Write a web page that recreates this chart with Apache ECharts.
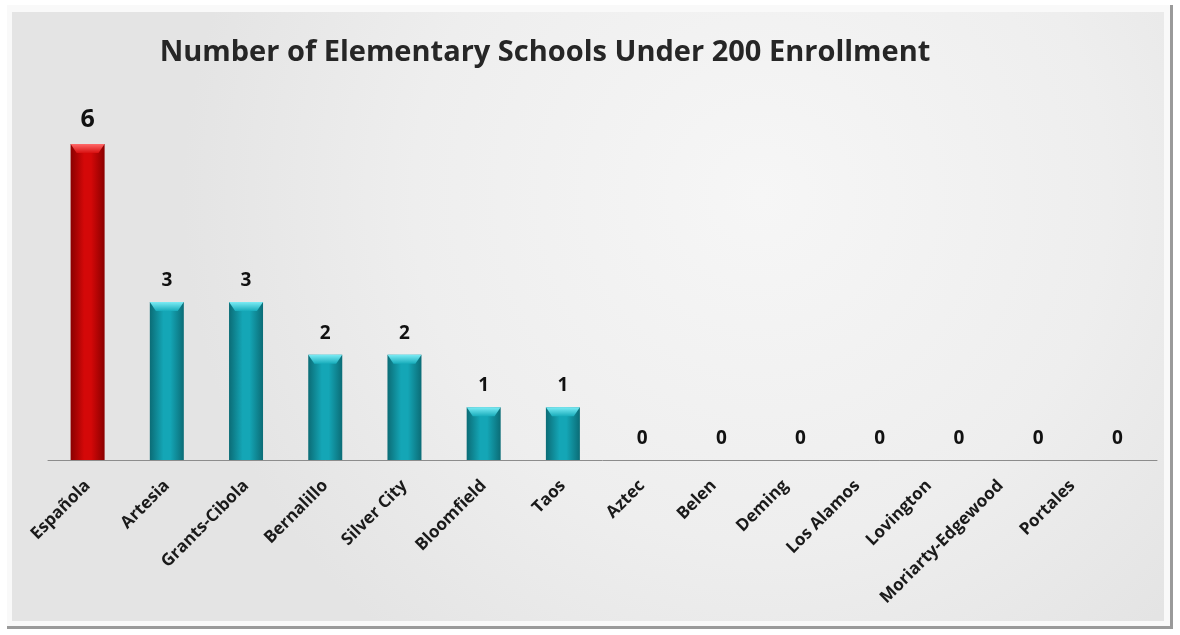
<!DOCTYPE html>
<html lang="en">
<head>
    <meta charset="UTF-8">
    <title>Number of Elementary Schools Under 200 Enrollment</title>
    <script src="https://cdn.jsdelivr.net/npm/echarts@6/dist/echarts.min.js"></script>
    <style>
        body, html {
            margin: 0;
            padding: 0;
            width: 100%;
            height: 100%;
            overflow: hidden;
            background-color: #fff;
        }
        #container {
            width: 1180px;
            height: 635px;
        }
    </style>
</head>
<body>
    <div id="container"></div>
    <script>
        // data
        var districts = ['Española', 'Artesia', 'Grants-Cibola', 'Bernalillo', 'Silver City', 'Bloomfield', 'Taos',
            'Aztec', 'Belen', 'Deming', 'Los Alamos', 'Lovington', 'Moriarty-Edgewood', 'Portales'];
        var schoolCounts = [6, 3, 3, 2, 2, 1, 1, 0, 0, 0, 0, 0, 0, 0];
        var highlighted = 'Española';

        function barGradient(edge, mid) {
            return new echarts.graphic.LinearGradient(0, 0, 1, 0, [
                { offset: 0, color: edge },
                { offset: 0.4, color: mid },
                { offset: 0.6, color: mid },
                { offset: 1, color: edge }
            ]);
        }
        function capGradient(light, base) {
            return new echarts.graphic.LinearGradient(0, 0, 0, 1, [
                { offset: 0, color: light },
                { offset: 1, color: base }
            ]);
        }

        var redFill = barGradient('#8a0000', '#d40808');
        var tealFill = barGradient('#0b6c76', '#14a6b6');
        var redCap = capGradient('#ff6a6a', '#d81010');
        var tealCap = capGradient('#7cecf5', '#17acbb');

        var barData = schoolCounts.map(function (v, i) {
            var hot = districts[i] === highlighted;
            return {
                value: v,
                itemStyle: { color: hot ? redFill : tealFill },
                label: hot ? { fontSize: 25 } : {}
            };
        });

        // bevel highlight on top of each bar
        var capData = schoolCounts.map(function (v, i) {
            var hot = districts[i] === highlighted;
            return {
                value: v,
                symbol: v > 0 ? 'path://M0,0 L10,0 L8.2,1 L1.8,1 Z' : 'none',
                itemStyle: { color: hot ? redCap : tealCap }
            };
        });

        // in the original the labels right of "Aztec" drift a little to the left;
        // shift them sideways with rich-text padding (label is rotated 45deg)
        var labelFont = { fontFamily: 'Open Sans', fontWeight: 'bold', fontSize: 17, color: '#1a1a1a' };
        var richLabels = { n: Object.assign({}, labelFont) };
        for (var k = 8; k < districts.length; k++) {
            var d = (k - 7) * 7.5;
            richLabels['s' + k] = Object.assign({ padding: [0, d / Math.SQRT2, d * Math.SQRT2, 0] }, labelFont);
        }

        var option = {
            backgroundColor: '#fff',
            animation: false,
            graphic: [
                // bevelled frame
                {
                    type: 'rect', z: -10, silent: true,
                    shape: { x: 7, y: 5, width: 1166, height: 624 },
                    style: { fill: '#9a9a9a' }
                },
                {
                    type: 'rect', z: -9, silent: true,
                    shape: { x: 7, y: 5, width: 1163, height: 621 },
                    style: { fill: '#f9f9f9' }
                },
                {
                    type: 'rect', z: -8, silent: true,
                    shape: { x: 12, y: 12, width: 1152, height: 609 },
                    style: {
                        fill: new echarts.graphic.RadialGradient(0.65, 0.3, 0.95, [
                            { offset: 0, color: '#f6f6f6' },
                            { offset: 0.6, color: '#eeeeee' },
                            { offset: 1, color: '#e4e4e4' }
                        ])
                    }
                }
            ],
            title: {
                text: 'Number of Elementary Schools Under 200 Enrollment',
                left: 540,
                textAlign: 'center',
                top: 33,
                textStyle: { fontFamily: 'Open Sans', fontWeight: 'bold', fontSize: 29, color: '#262626' }
            },
            grid: { left: 48, right: 23, top: 144, bottom: 175, containLabel: false },
            xAxis: {
                type: 'category',
                data: districts,
                axisLine: { lineStyle: { color: '#8c8c8c', width: 1 } },
                axisTick: { show: false },
                axisLabel: {
                    interval: 0,
                    rotate: 45,
                    margin: 23,
                    fontFamily: 'Open Sans',
                    fontWeight: 'bold',
                    fontSize: 17,
                    color: '#1a1a1a',
                    formatter: function (value, index) {
                        return '{' + (richLabels['s' + index] ? 's' + index : 'n') + '|' + value + '}';
                    },
                    rich: richLabels
                }
            },
            yAxis: {
                type: 'value',
                min: 0,
                max: 6,
                show: false,
                splitLine: { show: false }
            },
            series: [{
                type: 'bar',
                data: barData,
                barWidth: 34,
                barGap: '-100%',
                label: {
                    show: true,
                    position: 'top',
                    distance: 12,
                    fontFamily: 'Open Sans',
                    fontWeight: 'bold',
                    fontSize: 19,
                    color: '#111'
                }
            }, {
                type: 'pictorialBar',
                data: capData,
                symbolSize: [34, 9],
                symbolPosition: 'end',
                z: 5,
                silent: true
            }]
        };

        var chart = echarts.init(document.getElementById('container'));
        chart.setOption(option);
    </script>
</body>
</html>
